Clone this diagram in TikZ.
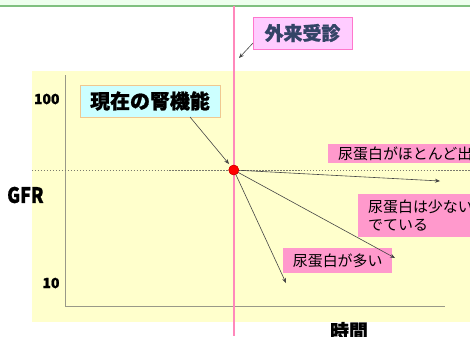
\documentclass[tikz,border=0pt]{standalone}
\usepackage{fontspec}
\newfontfamily\jp{Noto Sans CJK JP}
\newfontfamily\jpb{Noto Sans CJK JP}[BoldFeatures={FakeBold=1.2}]
\usetikzlibrary{arrows.meta}
\definecolor{bgyellow}{HTML}{FFFFCC}
\definecolor{topgreen}{HTML}{EEFFEE}
\definecolor{linegreen}{HTML}{80C080}
\definecolor{pinkline}{HTML}{FF88BB}
\definecolor{axisgray}{HTML}{999988}
\definecolor{pinkfill}{HTML}{FF99CC}
\definecolor{visitfill}{HTML}{FFCCFF}
\definecolor{visitdraw}{HTML}{FF77CC}
\definecolor{visittext}{HTML}{334466}
\definecolor{cyanfill}{HTML}{CCFFFF}
\definecolor{tandraw}{HTML}{F0C890}
\definecolor{arrowgray}{HTML}{444444}
\tikzset{
  x=1bp, y=-1bp,
  lbl/.style={font=\jp\fontsize{15}{19}\selectfont, text=black, fill=pinkfill, inner xsep=6pt, inner ysep=2pt, anchor=west, align=left},
  ptr/.style={draw=arrowgray, line width=0.6pt, -{Stealth[length=5pt,width=4pt]}},
  axistxt/.style={font=\jpb\bfseries\fontsize{14}{16}\selectfont, text=black},
  dotstyle/.style={circle, fill=red, draw=red!80!black, line width=0.4pt, minimum size=10pt, inner sep=0pt}
}
\begin{document}
\begin{tikzpicture}
\useasboundingbox (0,0) rectangle (470,336);
\clip (0,0) rectangle (470,336);
% top band
\fill[topgreen] (0,0) rectangle (470,6);
\draw[linegreen, line width=1.2pt] (0,6) -- (470,6);
% yellow plot area
\fill[bgyellow] (32,71) rectangle (475,322);
% axes
\draw[axisgray, line width=0.8pt] (65,75) -- (65,306) -- (445,306);
% dotted reference line
\draw[axisgray!80!black, line width=0.6pt, dash pattern=on 1.5pt off 1.5pt] (32,170) -- (470,170);
% pink vertical line (visit time)
\fill[pinkline] (233,6) rectangle (234.5,336);
% labels on axes
\node[axistxt, anchor=east] (y100) at (63,99) {100};
\node[axistxt, anchor=east] (y10) at (63,283) {10};
\node[font=\jpb\bfseries\fontsize{17}{20}\selectfont, anchor=west, inner sep=0pt] (gfr) at (7,195) {\scalebox{1.05}[1.25]{GFR}};
\node[font=\jpb\bfseries\fontsize{19}{22}\selectfont] (jikan) at (349,331) {時間};
% boxes
\node[fill=visitfill, draw=visitdraw, line width=0.8pt, minimum width=99bp, minimum height=32bp, inner sep=0pt,
      font=\jpb\bfseries\fontsize{19}{22}\selectfont, text=visittext] (gairai) at (302.5,33) {外来受診};
\node[fill=cyanfill, draw=tandraw, line width=0.8pt, minimum width=140bp, minimum height=32bp, inner sep=0pt,
      font=\jpb\bfseries\fontsize{20}{22}\selectfont, text=black] (genzai) at (150,101) {現在の腎機能};
% red dot
\node[dotstyle] (dot) at (233.75,170) {};
% pink labels
\node[lbl, minimum height=19bp, minimum width=160bp, text width=140bp] (l1) at (328,153.5) {尿蛋白がほとんど出};
\node[lbl, minimum height=43bp, minimum width=130bp, text width=110bp] (l2) at (358,215.5) {尿蛋白は少ない\\でている};
\node[lbl, minimum height=25bp, minimum width=109bp] (l3) at (283,260.5) {尿蛋白が多い};
% arrow end points
\coordinate (e0) at (239,58);
\coordinate (e1) at (440,181);
\coordinate (e2) at (395,258);
\coordinate (e3) at (286,283);
\coordinate (g0) at (253,43);
\coordinate (c0) at (190,117);
\coordinate (c1) at (229,164);
% connectors
\draw[ptr] (g0) -- (e0);
\draw[ptr] (c0) -- (c1);
\draw[ptr] (dot.center) -- (e1);
\draw[ptr] (dot.center) -- (e2);
\draw[ptr] (dot.center) -- (e3);
\node[dotstyle] at (dot) {};
\end{tikzpicture}
\end{document}
